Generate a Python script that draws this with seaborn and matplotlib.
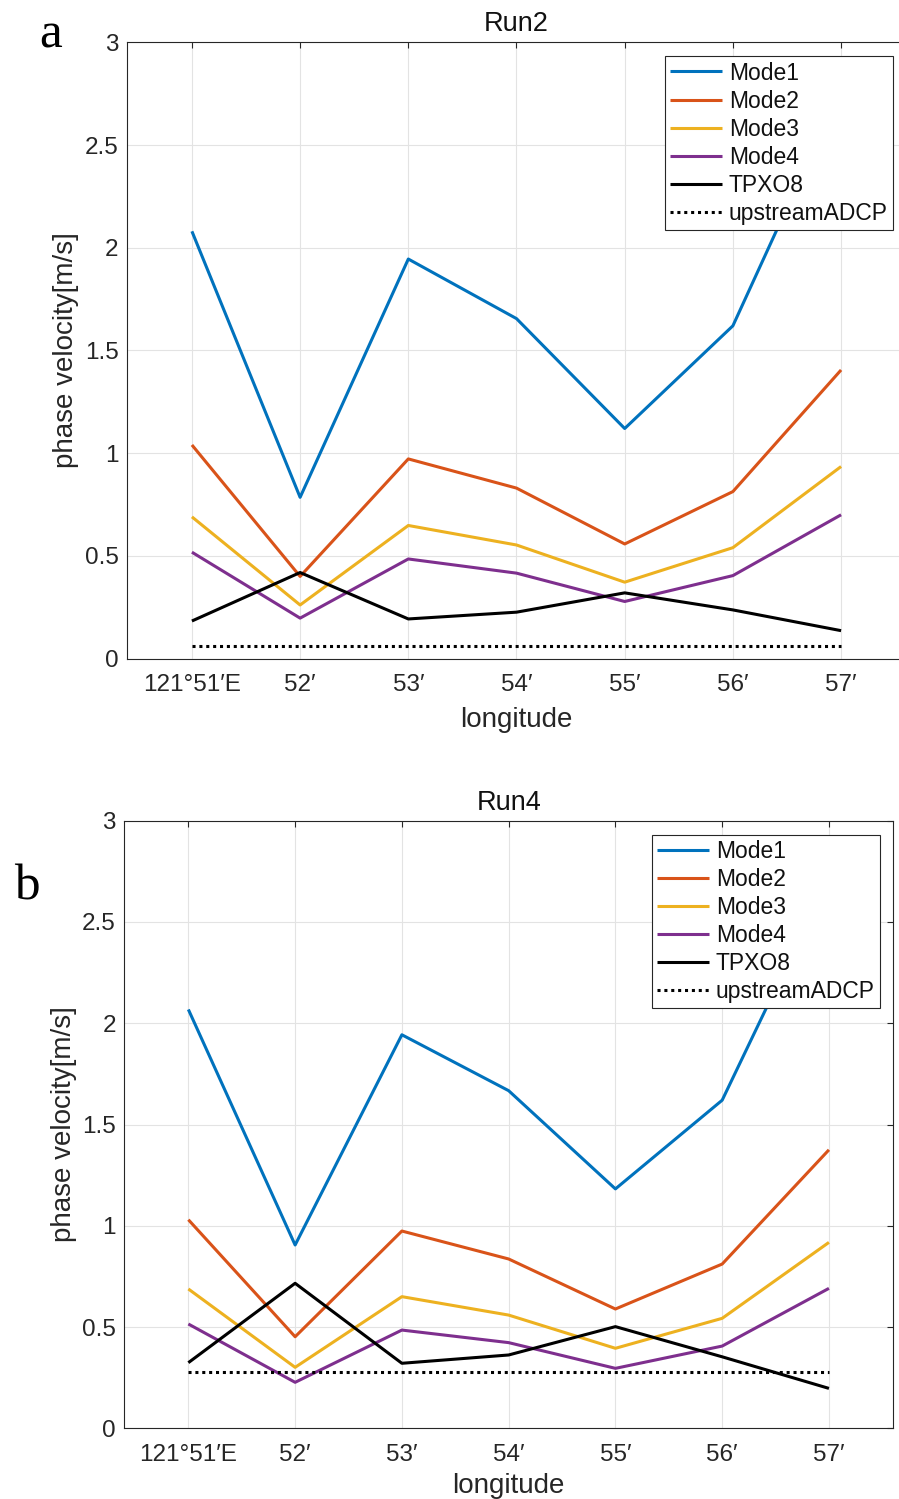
import numpy as np
import pandas as pd
import matplotlib
matplotlib.use("Agg")
import matplotlib.pyplot as plt
import seaborn as sns

# Longitude positions (arc-minutes past 121°E) and their tick labels
lon_minutes = [51, 52, 53, 54, 55, 56, 57]
tick_labels = ["121°51′E", "52′", "53′", "54′", "55′", "56′", "57′"]

# Run2 phase velocities [m/s]
run2_mode1 = [2.08, 0.785, 1.945, 1.655, 1.12, 1.62, 2.77]
run2_mode2 = [1.04, 0.40, 0.972, 0.83, 0.558, 0.813, 1.405]
run2_mode3 = [0.69, 0.261, 0.648, 0.553, 0.372, 0.54, 0.935]
run2_mode4 = [0.518, 0.197, 0.485, 0.416, 0.278, 0.404, 0.70]
run2_tpxo8 = [0.183, 0.419, 0.193, 0.226, 0.32, 0.237, 0.136]
run2_adcp = 0.062

# Run4 phase velocities [m/s]
run4_mode1 = [2.068, 0.905, 1.943, 1.667, 1.182, 1.62, 2.72]
run4_mode2 = [1.03, 0.452, 0.974, 0.836, 0.589, 0.811, 1.375]
run4_mode3 = [0.688, 0.301, 0.65, 0.559, 0.395, 0.543, 0.918]
run4_mode4 = [0.515, 0.227, 0.485, 0.423, 0.296, 0.406, 0.691]
run4_tpxo8 = [0.324, 0.716, 0.321, 0.362, 0.502, 0.353, 0.197]
run4_adcp = 0.276

series_names = ["Mode1", "Mode2", "Mode3", "Mode4", "TPXO8", "upstreamADCP"]
series_colors = ["#0072BD", "#D95319", "#EDB120", "#7E2F8E", "black", "black"]
series_styles = ["-", "-", "-", "-", "-", (0, (1.0, 1.25))]

sns.set_theme(style="white")
plt.rcParams["font.family"] = ["Liberation Sans", "DejaVu Sans"]
plt.rcParams["axes.unicode_minus"] = False

fig = plt.figure(figsize=(8.99, 14.99), dpi=100)

W, H = 899.0, 1499.0


def make_axes(left, right, top, bottom):
    return fig.add_axes([left / W, 1 - bottom / H, (right - left) / W, (bottom - top) / H])


ax_a = make_axes(127.0, 906.0, 42.3, 658.6)
ax_b = make_axes(124.3, 893.0, 820.7, 1428.3)

panels = [
    (ax_a, "Run2", "a", [run2_mode1, run2_mode2, run2_mode3, run2_mode4, run2_tpxo8], run2_adcp,
     (39 / W, 1 - 47 / H), 8),
    (ax_b, "Run4", "b", [run4_mode1, run4_mode2, run4_mode3, run4_mode4, run4_tpxo8], run4_adcp,
     (14 / W, 1 - 900 / H), 5),
]

for ax, title, letter, curves, adcp, letter_pos, xlabel_pad in panels:
    values = curves + [[adcp] * len(lon_minutes)]
    df = pd.DataFrame({
        "lon": np.tile(lon_minutes, len(series_names)),
        "v": np.concatenate(values),
        "series": np.repeat(series_names, len(lon_minutes)),
    })
    for name, color, ls in zip(series_names, series_colors, series_styles):
        sub = df[df["series"] == name]
        sns.lineplot(data=sub, x="lon", y="v", ax=ax, color=color, linestyle=ls,
                     linewidth=2.2, label=name, solid_capstyle="butt",
                     dash_capstyle="butt", zorder=3)

    ax.set_xlim(50.4, 57.6)
    ax.set_ylim(0, 3)
    ax.set_xticks(lon_minutes)
    ax.set_xticklabels(tick_labels)
    ax.set_yticks([0, 0.5, 1, 1.5, 2, 2.5, 3])
    ax.set_yticklabels(["0", "0.5", "1", "1.5", "2", "2.5", "3"])
    ax.grid(True, color="#e3e3e3", linewidth=0.8, zorder=0)
    ax.set_axisbelow(True)
    for sp in ax.spines.values():
        sp.set_color("#262626")
        sp.set_linewidth(0.8)
        sp.set_visible(True)
    ax.tick_params(axis="both", which="both", direction="in", length=4.5, width=0.8,
                   colors="#262626", labelsize=17.5, top=True, right=True,
                   labelcolor="#262626")
    ax.tick_params(axis="x", pad=11)
    ax.tick_params(axis="y", pad=6)
    ax.set_xlabel("longitude", fontsize=20, color="#262626", labelpad=xlabel_pad)
    ax.set_ylabel("phase velocity[m/s]", fontsize=20, color="#262626")
    ax.yaxis.set_label_coords(-0.062, 0.5)
    ax.set_title(title, fontsize=19.5, color="#111111", pad=8)

    leg = ax.legend(loc="upper right", bbox_to_anchor=(0.983, 0.977), borderaxespad=0,
                    fontsize=16.5, frameon=True, fancybox=False, framealpha=1,
                    edgecolor="#262626", handlelength=2.3, handletextpad=0.28,
                    labelspacing=0.22, borderpad=0.22)
    leg.get_frame().set_linewidth(0.8)
    for t in leg.get_texts():
        t.set_color("#111111")

    fig.text(letter_pos[0], letter_pos[1], letter, fontsize=37,
             family=["Liberation Serif", "DejaVu Serif"], ha="left", va="baseline",
             color="black")

fig.savefig("out.png", dpi=100)
